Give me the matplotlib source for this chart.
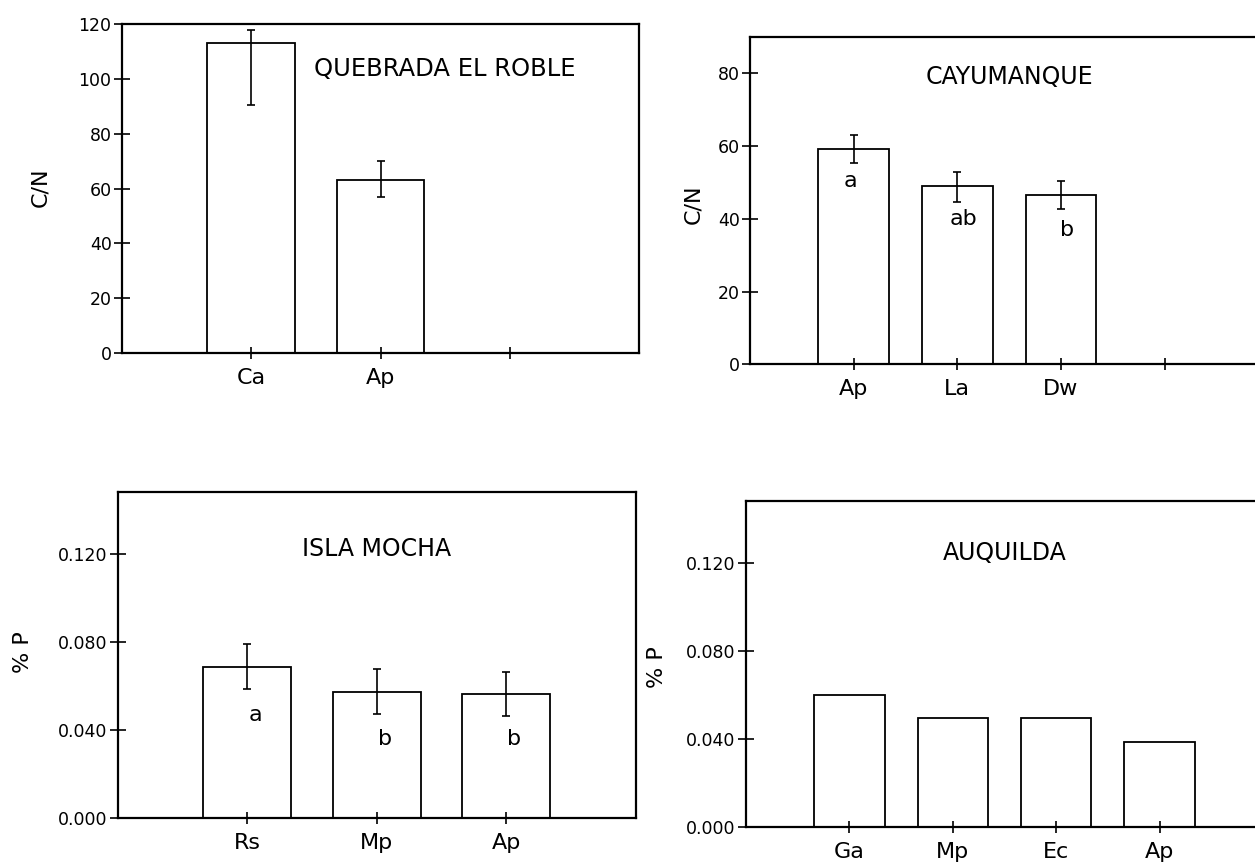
import matplotlib
matplotlib.use("Agg")
import matplotlib.pyplot as plt

# Quebrada El Roble (C/N)
roble_labels = ["Ca", "Ap"]
roble_cn = [113.0, 63.0]
roble_lo = [90.6, 57.1]
roble_hi = [118.0, 70.0]

# Cayumanque (C/N)
cayu_labels = ["Ap", "La", "Dw"]
cayu_cn = [59.1, 49.1, 46.6]
cayu_lo = [55.3, 44.6, 42.8]
cayu_hi = [63.0, 53.0, 50.4]
cayu_letters = ["a", "ab", "b"]
cayu_letter_y = [50.5, 40.0, 37.0]

# Isla Mocha (% P)
mocha_labels = ["Rs", "Mp", "Ap"]
mocha_p = [0.0687, 0.0571, 0.0561]
mocha_lo = [0.0587, 0.0473, 0.0463]
mocha_hi = [0.0789, 0.0676, 0.0664]
mocha_letters = ["a", "b", "b"]
mocha_letter_y = [0.0468, 0.0360, 0.0360]

# Auquilda (% P)
auq_labels = ["Ga", "Mp", "Ec", "Ap"]
auq_p = [0.060, 0.0497, 0.0495, 0.0387]


def style(ax, xmax, ymax, yticks, yfmt, ylabel, labels):
    ax.set_xlim(0, xmax)
    ax.set_ylim(0, ymax)
    ax.set_yticks(yticks)
    ax.set_yticklabels([yfmt.format(v) for v in yticks], fontsize=12.5)
    ticks = list(range(1, xmax))
    ax.set_xticks(ticks)
    ax.set_xticklabels(labels + [""] * (len(ticks) - len(labels)), fontsize=16)
    ax.tick_params(axis="y", direction="inout", length=11, width=1.2, pad=2)
    ax.tick_params(axis="x", direction="inout", length=9, width=1.2, pad=6)
    for s in ax.spines.values():
        s.set_linewidth(1.6)
    ax.set_ylabel(ylabel, fontsize=16)


def bars(ax, vals, lo=None, hi=None):
    x = range(1, len(vals) + 1)
    err = None
    if lo is not None:
        err = [[v - l for v, l in zip(vals, lo)], [h - v for v, h in zip(vals, hi)]]
    ax.bar(x, vals, width=0.68, color="white", edgecolor="black", linewidth=1.3,
           yerr=err, error_kw=dict(ecolor="black", elinewidth=1.2, capsize=3, capthick=1.2))


fig = plt.figure(figsize=(12.55, 8.63), dpi=100)

ax1 = fig.add_axes([0.0972, 0.591, 0.412, 0.381])
bars(ax1, roble_cn, roble_lo, roble_hi)
style(ax1, 4, 120, [0, 20, 40, 60, 80, 100, 120], "{:.0f}", "C/N", roble_labels)
ax1.text(2.5, 103.5, "QUEBRADA EL ROBLE", ha="center", va="center", fontsize=17.5)
ax1.yaxis.set_label_coords(-0.139, 0.505)

ax2 = fig.add_axes([0.5976, 0.578, 0.4131, 0.379])
bars(ax2, cayu_cn, cayu_lo, cayu_hi)
style(ax2, 5, 90, [0, 20, 40, 60, 80], "{:.0f}", "C/N", cayu_labels)
ax2.text(2.5, 79, "CAYUMANQUE", ha="center", va="center", fontsize=17)
for i, (t, y) in enumerate(zip(cayu_letters, cayu_letter_y)):
    dx = -0.03 if i == 0 else 0.06
    ax2.text(i + 1 + dx, y, t, ha="center", va="center", fontsize=16)
ax2.yaxis.set_label_coords(-0.091, 0.49)

ax3 = fig.add_axes([0.094, 0.0521, 0.4127, 0.3778])
bars(ax3, mocha_p, mocha_lo, mocha_hi)
style(ax3, 4, 0.148, [0.0, 0.04, 0.08, 0.12], "{:.3f}", "% P", mocha_labels)
ax3.text(2.0, 0.1223, "ISLA MOCHA", ha="center", va="center", fontsize=17)
for i, (t, y) in enumerate(zip(mocha_letters, mocha_letter_y)):
    ax3.text(i + 1 + 0.06, y, t, ha="center", va="center", fontsize=16)
ax3.yaxis.set_label_coords(-0.164, 0.51)

ax4 = fig.add_axes([0.5944, 0.0417, 0.412, 0.3778])
bars(ax4, auq_p)
style(ax4, 5, 0.148, [0.0, 0.04, 0.08, 0.12], "{:.3f}", "% P", auq_labels)
ax4.text(2.5, 0.1245, "AUQUILDA", ha="center", va="center", fontsize=17)
ax4.yaxis.set_label_coords(-0.153, 0.49)

fig.savefig("out.png", dpi=100)
